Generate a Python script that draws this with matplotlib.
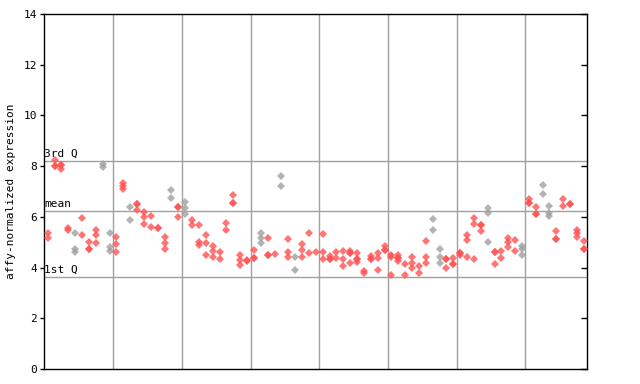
import matplotlib
matplotlib.use("Agg")
import matplotlib.pyplot as plt

# Expression values per sample column, grouped by the vertical grid blocks
group_1 = [[5.35, 5.15], [8.23, 8.01, 8.01], [8.06, 8.06, 7.90], [5.55, 5.50],
           [5.38, 4.75, 4.60], [5.94, 5.27], [4.99, 4.74, 4.74], [5.48, 5.27, 4.96],
           [8.10, 7.95], [5.35, 4.82, 4.66]]
group_2 = [[5.21, 4.91, 4.62], [7.32, 7.20, 7.08], [6.37, 5.87], [6.50, 6.50, 6.29],
           [6.20, 6.00, 5.70], [6.04, 5.60], [5.57, 5.57], [5.21, 4.98, 4.74],
           [7.04, 6.76], [6.40, 6.40, 5.98]]
group_3 = [[6.57, 6.33, 6.13], [5.87, 5.67], [5.66, 5.02, 4.89], [5.27, 4.96, 4.50],
           [4.86, 4.64, 4.40], [4.60, 4.32], [5.74, 5.48], [6.86, 6.55, 6.55],
           [4.48, 4.30, 4.12], [4.30, 4.25]]
group_4 = [[4.69, 4.39, 4.39], [5.38, 5.15, 4.96], [5.15, 4.49, 4.49], [4.52],
           [7.62, 7.21], [5.11, 4.60, 4.40], [4.40, 3.90], [4.91, 4.69, 4.43],
           [5.35, 4.56], [4.62]]
group_5 = [[5.31, 4.60, 4.32], [4.45, 4.32, 4.32], [4.60, 4.39], [4.64, 4.32, 4.07],
           [4.66, 4.56, 4.56, 4.20], [4.56, 4.32, 4.32, 4.23], [3.87, 3.77],
           [4.45, 4.35, 4.35], [4.56, 4.36, 3.89], [4.87, 4.70, 4.70]]
group_6 = [[4.48, 4.40, 3.69], [4.48, 4.36, 4.36, 4.24], [4.16, 3.69], [4.40, 4.19, 3.97],
           [4.08, 3.77], [5.03, 4.40, 4.20], [5.90, 5.50], [4.75, 4.40, 4.20],
           [4.35, 4.35, 3.97], [4.36, 4.14, 4.14]]
group_7 = [[4.58, 4.58, 4.48], [5.27, 5.07, 4.43], [5.94, 5.70, 4.32], [5.66, 5.66, 5.46],
           [6.33, 6.17, 4.99], [4.62, 4.62, 4.16], [4.64, 4.39], [5.15, 4.99, 4.82],
           [5.07, 4.66], [4.87, 4.72, 4.48]]
group_8 = [[6.69, 6.53, 6.53], [6.37, 6.12, 6.12], [7.24, 6.92], [6.41, 6.17, 6.02],
           [5.46, 5.14, 5.14], [6.69, 6.41], [6.50, 6.50], [5.50, 5.35, 5.19],
           [5.03, 4.74, 4.74]]

grey_columns = [4, 8, 9, 12, 18, 20, 31, 34, 36, 56, 57, 64, 69, 72, 73]

third_q = 8.21
mean_val = 6.22
first_q = 3.62
y_ticks = [0, 2, 4, 6, 8, 10, 12, 14]

columns = group_1 + group_2 + group_3 + group_4 + group_5 + group_6 + group_7 + group_8

RED = "#ff5252"
GREY = "#a0a0a0"
FONT = "DejaVu Sans Mono"

fig = plt.figure(figsize=(6.4, 3.84), dpi=100)
ax = fig.add_axes([44.3 / 640, 15 / 384, 543 / 640, 355 / 384])

n = len(columns)
ax.set_xlim(0, n)
ax.set_ylim(0, 14)

for gx in range(10, n, 10):
    ax.axvline(gx, color=GREY, lw=1, zorder=1)
for yv in (third_q, mean_val, first_q):
    ax.axhline(yv, color=GREY, lw=1, zorder=1)

for i, vals in enumerate(columns):
    c = GREY if i in grey_columns else RED
    ax.plot([i + 0.5] * len(vals), vals, linestyle="none", marker="D",
            markersize=4.2, markeredgewidth=0, color=c, alpha=0.8, zorder=3)

for label, yv in (("3rd Q", third_q), ("mean", mean_val), ("1st Q", first_q)):
    ax.text(0.0, yv + 0.08, label, fontsize=8, family=FONT, ha="left", va="bottom",
            color="black", zorder=4)

ax.set_yticks(y_ticks)
ax.set_yticklabels([str(t) for t in y_ticks], fontsize=8, family=FONT)
ax.set_xticks([])
ax.tick_params(axis="y", which="both", left=True, right=True, direction="out",
               length=3, width=1, pad=2)
ax.tick_params(axis="y", which="both", right=True)
# right ticks point inward
for t in ax.yaxis.get_major_ticks():
    t.tick2line.set_marker(matplotlib.lines.TICKLEFT)
    t.tick2line.set_markersize(4)

for s in ax.spines.values():
    s.set_linewidth(1)
    s.set_color("black")

ax.set_ylabel("affy-normalized expression", fontsize=8, family=FONT, labelpad=6)

fig.savefig("out.png", dpi=100)
